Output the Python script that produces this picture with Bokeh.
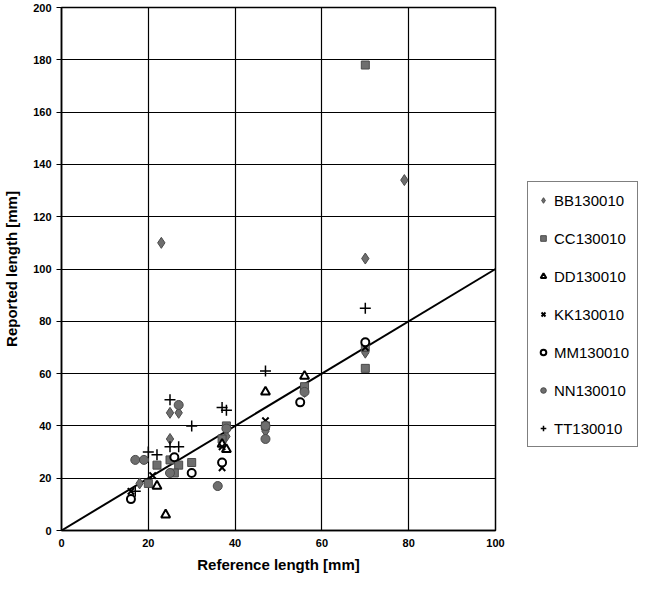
from bokeh.plotting import figure
from bokeh.models import Range1d, Legend, LegendItem, FixedTicker
from bokeh.embed import file_html
from bokeh.resources import INLINE

# ---- data ----
bb_x = [23, 79, 70, 25, 27, 25, 18, 38, 47, 56, 70]
bb_y = [110, 134, 104, 45, 45, 35, 18, 36, 38, 53, 68]
cc_x = [70, 70, 70, 56, 38, 25, 27, 22, 30, 37, 47, 20, 26]
cc_y = [178, 62, 70, 55, 40, 27, 25, 25, 26, 35, 40, 18, 22]
dd_x = [24, 22, 37, 38, 47, 56]
dd_y = [6, 17, 33, 31, 53, 59]
kk_x = [16, 21, 37, 47, 70, 37]
kk_y = [15, 21, 24, 42, 70, 32]
mm_x = [16, 37, 55, 70, 30, 26]
mm_y = [12, 26, 49, 72, 22, 28]
nn_x = [17, 19, 36, 47, 47, 27, 56, 25, 38]
nn_y = [27, 27, 17, 35, 40, 48, 53, 22, 39]
tt_x = [20, 22, 25, 25, 27, 30, 37, 38, 47, 70, 17]
tt_y = [30, 29, 50, 32, 32, 40, 47, 46, 61, 85, 15]
line_x = [0, 100]
line_y = [0, 100]
x_ticks = [0, 20, 40, 60, 80, 100]
y_ticks = [0, 20, 40, 60, 80, 100, 120, 140, 160, 180, 200]

FONT = "Liberation Sans"

p = figure(frame_width=434, frame_height=523, output_backend="svg", toolbar_location=None,
           x_range=Range1d(0, 100), y_range=Range1d(0, 200),
           min_border_left=53, min_border_right=0, min_border_top=7, min_border_bottom=50)
p.outline_line_color = "black"
p.outline_line_width = 1.5

for ax in (p.xaxis[0], p.yaxis[0]):
    ax.axis_line_color = "black"
    ax.axis_line_width = 1.5
    ax.major_tick_line_color = "black"
    ax.minor_tick_line_color = None
    ax.major_tick_in = 0
    ax.major_tick_out = 5
    ax.major_label_text_font = FONT
    ax.major_label_text_font_style = "bold"
    ax.major_label_text_font_size = "11px"
    ax.major_label_text_color = "black"
    ax.axis_label_text_font = FONT
    ax.axis_label_text_font_style = "bold"
    ax.axis_label_text_font_size = "15px"
    ax.axis_label_text_color = "black"

p.xaxis[0].ticker = FixedTicker(ticks=x_ticks)
p.yaxis[0].ticker = FixedTicker(ticks=y_ticks)
p.xaxis[0].axis_label = "Reference length [mm]"
p.yaxis[0].axis_label = "Reported length [mm]"
p.xaxis[0].major_tick_out = 0
p.xaxis[0].major_label_standoff = 8
p.xaxis[0].axis_label_standoff = 6
p.yaxis[0].axis_label_standoff = 10

p.xgrid.grid_line_color = "black"
p.ygrid.grid_line_color = "black"
p.xgrid.grid_line_width = 1.2
p.ygrid.grid_line_width = 1.2
p.xgrid.ticker = FixedTicker(ticks=x_ticks)
p.ygrid.ticker = FixedTicker(ticks=y_ticks)

p.line(line_x, line_y, line_color="black", line_width=2)

gray = "#6e6e6e"
edge = "#4a4a4a"
r_bb = p.scatter(bb_x, bb_y, marker="diamond", size=11, fill_color=gray, line_color=edge)
r_cc = p.scatter(cc_x, cc_y, marker="square", size=8, fill_color=gray, line_color=edge)
r_dd = p.scatter(dd_x, dd_y, marker="triangle", size=9, fill_color="white", line_color="black", line_width=2)
r_kk = p.scatter(kk_x, kk_y, marker="x", size=9, line_color="black", line_width=2)
r_mm = p.scatter(mm_x, mm_y, marker="circle", size=8, fill_color="white", line_color="black", line_width=2)
r_nn = p.scatter(nn_x, nn_y, marker="circle", size=9, fill_color=gray, line_color=edge)
r_tt = p.scatter(tt_x, tt_y, marker="cross", size=11, line_color="black", line_width=1.5)

items = [
    LegendItem(label="BB130010", renderers=[r_bb]),
    LegendItem(label="CC130010", renderers=[r_cc]),
    LegendItem(label="DD130010", renderers=[r_dd]),
    LegendItem(label="KK130010", renderers=[r_kk]),
    LegendItem(label="MM130010", renderers=[r_mm]),
    LegendItem(label="NN130010", renderers=[r_nn]),
    LegendItem(label="TT130010", renderers=[r_tt]),
]
legend = Legend(items=items, location=(32, 83))
legend.label_text_font = FONT
legend.label_text_font_size = "15px"
legend.label_text_color = "black"
legend.glyph_width = 14
legend.glyph_height = 20
legend.label_height = 20
legend.spacing = 18
legend.padding = 8
legend.margin = 0
legend.label_standoff = 4
legend.border_line_color = "black"
legend.border_line_width = 1
legend.background_fill_color = "white"
legend.background_fill_alpha = 1
p.add_layout(legend, "right")

open("out.html", "w").write(file_html(p, INLINE))
